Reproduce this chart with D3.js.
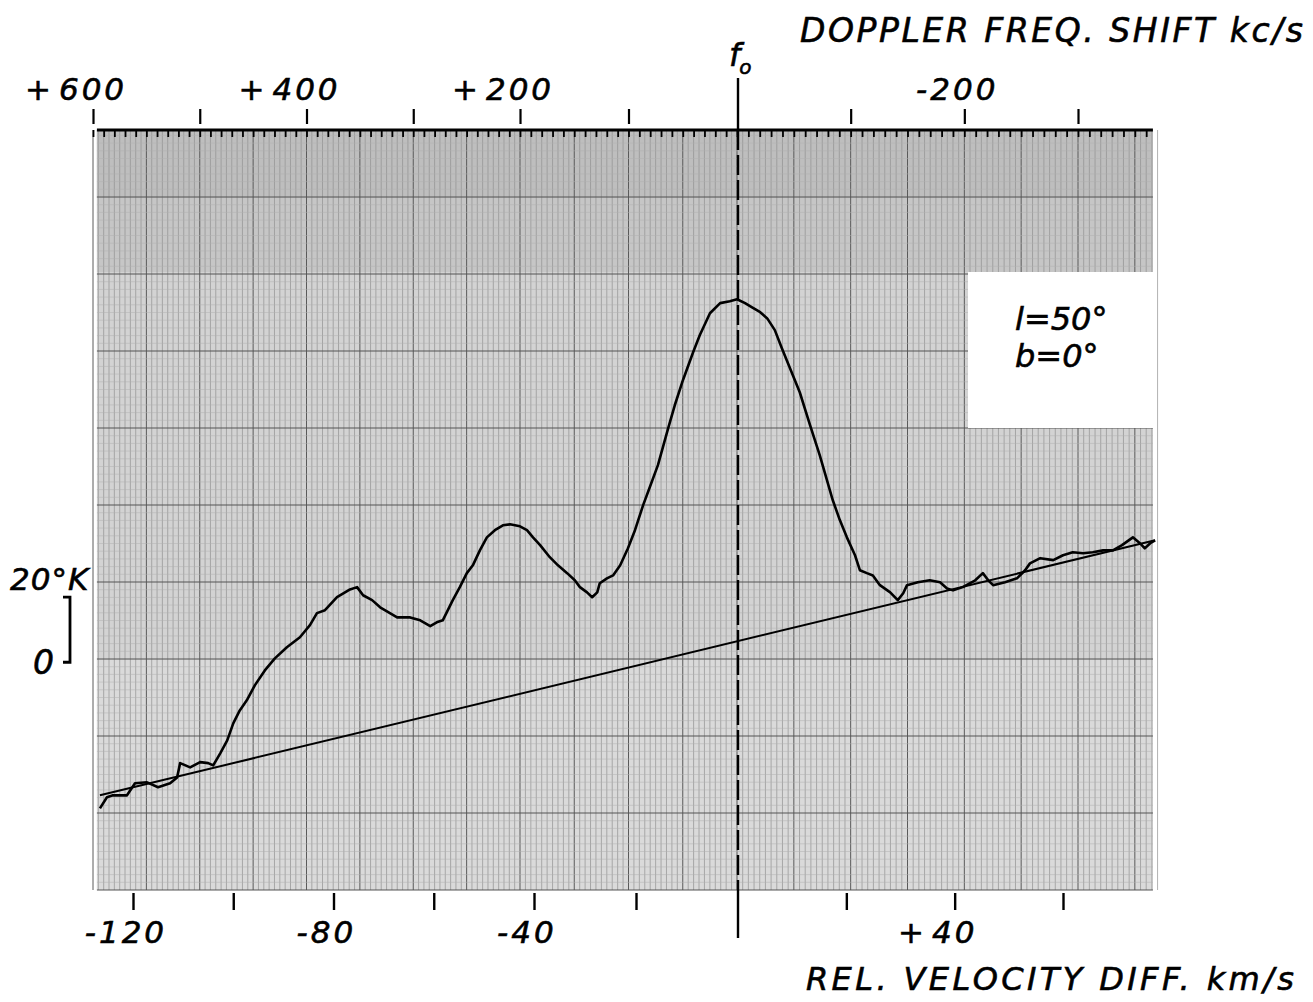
<!DOCTYPE html>
<html>
<head>
<meta charset="utf-8">
<script src="https://cdn.jsdelivr.net/npm/d3@7"></script>
<style>
  html, body { margin: 0; padding: 0; background: #fff; }
  svg { display: block; }
  text { font-family: "DejaVu Sans", sans-serif; font-style: oblique; fill: #000; stroke: #000; stroke-width: 0.6px; }
</style>
</head>
<body>
<svg id="chart" width="1313" height="1002"></svg>
<script>
// ── data ─────────────────────────────────────────────────
const velTicks   = [-120, -100, -80, -60, -40, -20, 20, 40, 60];
const velLabels  = [-120, -80, -40, 40];
const freqTicks  = [600, 500, 400, 300, 200, 100, 0, -100, -200, -300];
const freqLabels = [600, 400, 200, -200];
const scaleBar   = [0, 20];   // °K

// relative velocity (km/s) and recorder deflection (°K)
const profileV = [
  -126.6, -125.2, -124.0, -121.2, -119.6, -117.2, -115.0, -112.6, -111.2, -110.6,
  -108.6, -106.6, -105.0, -104.0, -102.6, -101.2, -100.0, -98.7, -97.3, -95.7,
  -93.7, -91.7, -89.3, -86.7, -84.7, -83.3, -81.7, -79.3, -76.7, -75.3,
  -74.1, -72.3, -70.7, -67.3, -64.7, -62.7, -60.7, -59.4, -58.2, -56.2,
  -54.8, -53.4, -52.2, -50.8, -49.4, -47.8, -46.2, -44.8, -42.8, -41.4,
  -40.2, -38.8, -36.9, -35.3, -33.5, -32.0, -31.0, -29.6, -28.6, -27.6,
  -27.1, -25.7, -24.5, -23.1, -21.6, -20.2, -18.6, -17.3, -15.7, -13.7,
  -12.4, -10.8, -8.8, -7.5, -5.5, -3.5, -1.6, -0.2, 1.3, 2.6,
  4.1, 5.4, 6.8, 8.1, 9.6, 11.4, 13.3, 15.1, 17.5, 18.8,
  20.1, 21.6, 22.5, 23.8, 24.9, 26.2, 28.1, 29.5, 30.5, 31.2,
  33.2, 35.4, 37.3, 38.6, 39.7, 41.5, 43.8, 45.2, 46.2, 47.1,
  49.3, 51.5, 53.0, 53.9, 55.8, 58.2, 60.0, 61.8, 63.7, 65.5,
  67.4, 69.2, 70.9, 72.9, 74.2, 75.1, 76.1, 77.0
];
const profileT = [
  -44.9, -41.5, -40.9, -40.9, -37.2, -36.9, -38.4, -37.2, -35.4, -31.0,
  -32.3, -30.7, -31.0, -31.7, -28.0, -24.0, -18.8, -14.8, -11.7, -7.1,
  -2.5, 1.2, 4.6, 7.7, 11.4, 15.1, 16.0, 20.0, 22.4, 23.1,
  20.6, 19.1, 16.9, 13.8, 13.8, 12.9, 11.1, 12.3, 12.9, 19.1,
  23.1, 27.4, 29.8, 34.4, 38.4, 40.6, 42.1, 42.4, 41.8, 40.6,
  38.4, 36.0, 32.3, 29.8, 27.4, 25.2, 23.1, 21.5, 20.0, 21.5,
  24.3, 25.8, 26.7, 29.8, 35.0, 40.6, 48.3, 53.8, 60.6, 71.9,
  79.0, 86.7, 95.3, 100.5, 107.3, 110.4, 111.0, 111.6, 110.4, 109.1,
  107.6, 105.7, 102.1, 96.5, 90.4, 83.0, 72.9, 63.6, 49.8, 43.7,
  38.4, 32.9, 28.3, 27.4, 26.7, 23.7, 21.5, 19.1, 21.2, 23.7,
  24.6, 25.2, 24.6, 22.7, 22.1, 23.1, 25.2, 27.4, 25.2, 23.7,
  24.6, 25.8, 28.3, 30.4, 32.0, 31.4, 32.9, 33.8, 33.5, 33.8,
  34.4, 34.4, 36.0, 38.4, 36.6, 35.0, 36.6, 37.5
];
// straight instrumental baseline
const baselineV = [-126.6, 77.0];
const baselineT = [-40.9, 37.5];

// ── scales ───────────────────────────────────────────────
const vMin = -127.2, vMax = 76.6;
const x  = d3.scaleLinear().domain([-120, -40, 0, 60]).range([133, 534, 738, 1063]);
const xf = d3.scaleLinear().domain([600, 200, 0, -300]).range([93, 520, 737, 1078]);
const y  = d3.scaleLinear().domain([-70, 163]).range([890, 132]);

const svg = d3.select('#chart');
const pLeft = x(vMin), pRight = x(vMax), pTop = 130, pBottom = y(-70);

// ── chart paper ──────────────────────────────────────────
const paper = svg.append('g').attr('class', 'paper');
paper.append('rect').attr('x', pLeft).attr('y', pTop).attr('width', pRight - pLeft).attr('height', pBottom - pTop)
  .attr('fill', '#d3d3d3');
paper.append('rect').attr('x', pLeft).attr('y', pTop).attr('width', pRight - pLeft).attr('height', 142)
  .attr('fill', '#c6c6c6');
paper.append('rect').attr('x', pLeft).attr('y', pTop).attr('width', pRight - pLeft).attr('height', 68)
  .attr('fill', '#bebebe');
paper.append('rect').attr('x', pLeft).attr('y', 660).attr('width', pRight - pLeft).attr('height', pBottom - 660)
  .attr('fill', '#dadada');

const fStart = Math.ceil(xf.invert(pLeft) / 5) * 5, fEnd = Math.floor(xf.invert(pRight) / 5) * 5;
const fLines = d3.range(fStart, fEnd - 1, -5);
paper.selectAll('.vline').data(fLines).join('line').attr('class', 'vline')
  .attr('x1', d => xf(d)).attr('x2', d => xf(d)).attr('y1', pTop).attr('y2', pBottom)
  .attr('stroke', d => d % 50 === 0 ? '#5a5a5a' : '#909090')
  .attr('stroke-width', d => d % 50 === 0 ? 1 : 0.7);

const hMinor = d3.range(pBottom, pTop, -7.7);
paper.selectAll('.hline').data(hMinor).join('line').attr('class', 'hline')
  .attr('x1', pLeft).attr('x2', pRight).attr('y1', d => d).attr('y2', d => d)
  .attr('stroke', (d, i) => i % 10 === 0 ? '#555' : '#b0b0b0')
  .attr('stroke-width', (d, i) => i % 10 === 0 ? 1.1 : 0.5);

// white label card on the right
paper.append('rect').attr('x', 968).attr('y', 272).attr('width', pRight - 968 + 2).attr('height', 156)
  .attr('fill', '#fff');

// ── top frequency axis ───────────────────────────────────
const minorF = d3.range(Math.ceil(xf.invert(pLeft) / 10) * 10, xf.invert(pRight), -10);
svg.append('g').attr('transform', `translate(0,${pTop})`)
  .call(d3.axisBottom(xf).tickValues(minorF).tickSize(7).tickFormat(''))
  .call(g => g.select('.domain').remove())
  .call(g => g.selectAll('line').attr('stroke', '#000').attr('stroke-width', 1.8));
svg.append('g').attr('transform', `translate(0,${pTop - 6})`)
  .call(d3.axisTop(xf).tickValues(freqTicks.filter(d => d !== 0)).tickSize(15).tickFormat(''))
  .call(g => g.select('.domain').remove())
  .call(g => g.selectAll('line').attr('stroke', '#000').attr('stroke-width', 2.2));
svg.append('line').attr('x1', pLeft).attr('x2', pRight).attr('y1', pTop).attr('y2', pTop)
  .attr('stroke', '#000').attr('stroke-width', 2.8);

// sign hangs to the left, digits centred on the tick
function signedLabel(sel, scale, values, baseY) {
  values.forEach(v => {
    const digits = sel.append('text').attr('x', scale(v)).attr('y', baseY)
      .attr('text-anchor', 'middle').attr('font-size', 31).attr('letter-spacing', 3)
      .text(String(Math.abs(v)));
    const w = digits.node().getComputedTextLength();
    sel.append('text').attr('x', scale(v) - w / 2 - (v > 0 ? 8 : 3)).attr('y', baseY)
      .attr('text-anchor', 'end').attr('font-size', 31)
      .text(v > 0 ? '+' : '-');
  });
}
signedLabel(svg.append('g'), xf, freqLabels, 100);

svg.append('text').attr('x', 800).attr('y', 42).attr('font-size', 33)
  .attr('textLength', 503).attr('lengthAdjust', 'spacing')
  .text('DOPPLER FREQ. SHIFT kc/s');

// ── bottom velocity axis ─────────────────────────────────
svg.append('g').attr('transform', `translate(0,${pBottom + 3})`)
  .call(d3.axisBottom(x).tickValues(velTicks).tickSize(17).tickFormat(''))
  .call(g => g.select('.domain').remove())
  .call(g => g.selectAll('line').attr('stroke', '#000').attr('stroke-width', 2.4));
signedLabel(svg.append('g'), x, velLabels, 943);

svg.append('text').attr('x', 806).attr('y', 990).attr('font-size', 32)
  .attr('textLength', 488).attr('lengthAdjust', 'spacing')
  .text('REL. VELOCITY DIFF. km/s');

// ── f0 reference line ────────────────────────────────────
const x0 = x(0);
svg.append('line').attr('x1', x0).attr('x2', x0).attr('y1', 78).attr('y2', pTop)
  .attr('stroke', '#000').attr('stroke-width', 2.4);
svg.append('line').attr('x1', x0).attr('x2', x0).attr('y1', pTop).attr('y2', pBottom)
  .attr('stroke', '#000').attr('stroke-width', 2.4).attr('stroke-dasharray', '20,5');
svg.append('line').attr('x1', x0).attr('x2', x0).attr('y1', pBottom).attr('y2', 938)
  .attr('stroke', '#000').attr('stroke-width', 2.4);
const f0 = svg.append('text').attr('x', x0 - 9).attr('y', 66).attr('font-size', 32).text('f');
f0.append('tspan').attr('font-size', 20).attr('dy', 8).attr('dx', -1).text('o');

// ── baseline and profile ─────────────────────────────────
const line = d3.line().x(d => x(d[0])).y(d => y(d[1]));
svg.append('path').datum(d3.zip(baselineV, baselineT)).attr('d', line)
  .attr('fill', 'none').attr('stroke', '#000').attr('stroke-width', 2);
svg.append('path').datum(d3.zip(profileV, profileT)).attr('d', line)
  .attr('fill', 'none').attr('stroke', '#000').attr('stroke-width', 2.6).attr('stroke-linejoin', 'round');

// ── temperature scale bar ────────────────────────────────
const barX = 70;
svg.append('path')
  .attr('d', `M${barX - 7},${y(scaleBar[1])}H${barX}V${y(scaleBar[0])}H${barX - 7}`)
  .attr('fill', 'none').attr('stroke', '#000').attr('stroke-width', 2.8);
svg.append('text').attr('x', 10).attr('y', y(scaleBar[1]) - 7).attr('font-size', 31)
  .attr('letter-spacing', 1).text(`${scaleBar[1]}°K`);
svg.append('text').attr('x', 33).attr('y', y(scaleBar[0]) + 12).attr('font-size', 33).text(`${scaleBar[0]}`);

// ── galactic coordinates ─────────────────────────────────
svg.append('text').attr('x', 1015).attr('y', 330).attr('font-size', 32).text('l=50°');
svg.append('text').attr('x', 1015).attr('y', 367).attr('font-size', 32).text('b=0°');
</script>
</body>
</html>
